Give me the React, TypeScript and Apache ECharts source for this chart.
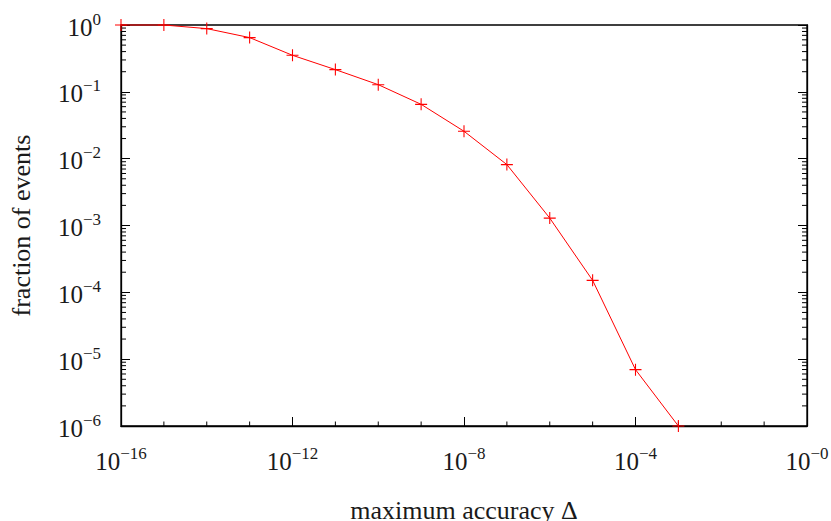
import React, { useEffect, useRef } from 'react';
import * as echarts from 'echarts';

// ---- data ----
const accuracy = [1e-16, 1e-15, 1e-14, 1e-13, 1e-12, 1e-11, 1e-10, 1e-9, 1e-8, 1e-7, 1e-6, 1e-5, 1e-4, 1e-3];
const fraction = [1, 1, 0.883, 0.648, 0.352, 0.215, 0.128, 0.065, 0.0257, 0.00815, 0.00129, 1.51e-4, 6.97e-6, 1e-6];

const xLabelValues = [1e-16, 1e-12, 1e-8, 1e-4, 1];
const xLabelExponents = ['−16', '−12', '−8', '−4', '−0'];
const yLabelValues = [1e-6, 1e-5, 1e-4, 1e-3, 1e-2, 1e-1, 1];
const yLabelExponents = ['−6', '−5', '−4', '−3', '−2', '−1', '0'];

const xMinorDecades = [-15, -14, -13, -11, -10, -9, -7, -6, -5, -3, -2, -1];
const yDecades = [-6, -5, -4, -3, -2, -1];
const yMinorMultipliers = [2, 3, 4, 5, 6, 7, 8, 9];

const X_MIN = 1e-16;
const X_MAX = 1;
const Y_MIN = 1e-6;
const Y_MAX = 1;

const pow10 = (d: number) => Number('1e' + d);

const xMinorTicks = xMinorDecades.map((d) => pow10(d));
const yMinorTicks: number[] = [];
yDecades.forEach((d) => yMinorMultipliers.forEach((m) => yMinorTicks.push(Number(m + 'e' + d))));

const FONT = 'Liberation Serif';
const TEXT_COLOR = '#1a1a1a';

function labelFor(values: number[], exps: string[]) {
  return (v: number) => {
    const e = v > 0 && v <= 1.0000001 ? Math.log10(v) : v;
    let best = 0;
    let bestD = Infinity;
    values.forEach((val, i) => {
      const d = Math.abs(Math.log10(val) - e);
      if (d < bestD) {
        bestD = d;
        best = i;
      }
    });
    return '{b|10}{s|' + exps[best] + '}';
  };
}

const rich = {
  b: { fontSize: 25, lineHeight: 29, fontFamily: FONT, color: TEXT_COLOR, verticalAlign: 'bottom' },
  s: { fontSize: 17, lineHeight: 17, fontFamily: FONT, color: TEXT_COLOR, verticalAlign: 'top' },
};

function tickSeries(points: number[][], dx: number, dy: number, len: number) {
  return {
    type: 'custom',
    silent: true,
    clip: false,
    z: 5,
    data: points,
    renderItem: (_params: any, api: any) => {
      const p = api.coord([api.value(0), api.value(1)]);
      return {
        type: 'line',
        shape: { x1: p[0], y1: p[1], x2: p[0] + dx * len, y2: p[1] + dy * len },
        style: { stroke: '#000', lineWidth: 1 },
      };
    },
  };
}

export default function App() {
  const ref = useRef<HTMLDivElement>(null);
  useEffect(() => {
    if (!ref.current) return;
    const chart = echarts.init(ref.current, null, { renderer: 'svg' });
    const axisLine = { show: true, onZero: false, lineStyle: { color: '#000', width: 1.3 } };
    const option: any = {
      animation: false,
      backgroundColor: '#fff',
      textStyle: { fontFamily: FONT },
      grid: {
        left: 121,
        right: 24,
        top: 25,
        bottom: 95,
        containLabel: false,
        outerBoundsMode: 'none',
        show: true,
        borderColor: '#000',
        borderWidth: 1.3,
      },
      xAxis: {
        type: 'log',
        logBase: 10,
        min: X_MIN,
        max: X_MAX,
        name: 'maximum accuracy Δ',
        nameLocation: 'middle',
        nameGap: 71,
        nameTextStyle: { fontFamily: FONT, fontSize: 26, color: TEXT_COLOR },
        axisLine,
        axisTick: { show: true, inside: true, length: 9, customValues: xLabelValues, lineStyle: { color: '#000' } },
        axisLabel: {
          show: true,
          margin: 19,
          fontFamily: FONT,
          customValues: xLabelValues,
          formatter: labelFor(xLabelValues, xLabelExponents),
          rich,
          showMinLabel: true,
          showMaxLabel: true,
        },
        splitLine: { show: false },
        minorTick: { show: false },
      },
      yAxis: [
        {
          type: 'log',
          logBase: 10,
          min: Y_MIN,
          max: Y_MAX,
          position: 'left',
          name: 'fraction of events',
          nameLocation: 'middle',
          nameGap: 87,
          nameTextStyle: { fontFamily: FONT, fontSize: 26, color: TEXT_COLOR },
          axisLine,
          axisTick: { show: true, inside: true, length: 9, customValues: yLabelValues, lineStyle: { color: '#000' } },
          axisLabel: {
            show: true,
            margin: 20,
            fontFamily: FONT,
            customValues: yLabelValues,
            formatter: labelFor(yLabelValues, yLabelExponents),
            rich,
            showMinLabel: true,
            showMaxLabel: true,
          },
          splitLine: { show: false },
          minorTick: { show: false },
        },
        {
          type: 'log',
          logBase: 10,
          min: Y_MIN,
          max: Y_MAX,
          position: 'right',
          axisLine,
          axisTick: { show: true, inside: true, length: 9, customValues: yLabelValues, lineStyle: { color: '#000' } },
          axisLabel: { show: false },
          splitLine: { show: false },
          minorTick: { show: false },
        },
      ],
      series: [
        tickSeries(xMinorTicks.map((x) => [x, Y_MIN]), 0, -1, 4.5),
        tickSeries(yMinorTicks.map((y) => [X_MIN, y]), 1, 0, 5),
        tickSeries(yMinorTicks.map((y) => [X_MAX, y]), -1, 0, 5),
        {
          type: 'line',
          data: accuracy.map((x, i) => [x, fraction[i]]),
          clip: false,
          z: 10,
          symbol: 'path://M0,4.55H10V5.45H0Z M4.55,0H5.45V10H4.55Z',
          symbolSize: 12,
          showSymbol: true,
          lineStyle: { color: '#ff0000', width: 1 },
          itemStyle: { color: '#ff0000' },
        },
      ],
    };
    chart.setOption(option);
    return () => chart.dispose();
  }, []);
  return (
    <div
      ref={ref}
      style={{ position: 'fixed', left: 0, top: 0, width: 831, height: 521, background: '#fff' }}
    />
  );
}
